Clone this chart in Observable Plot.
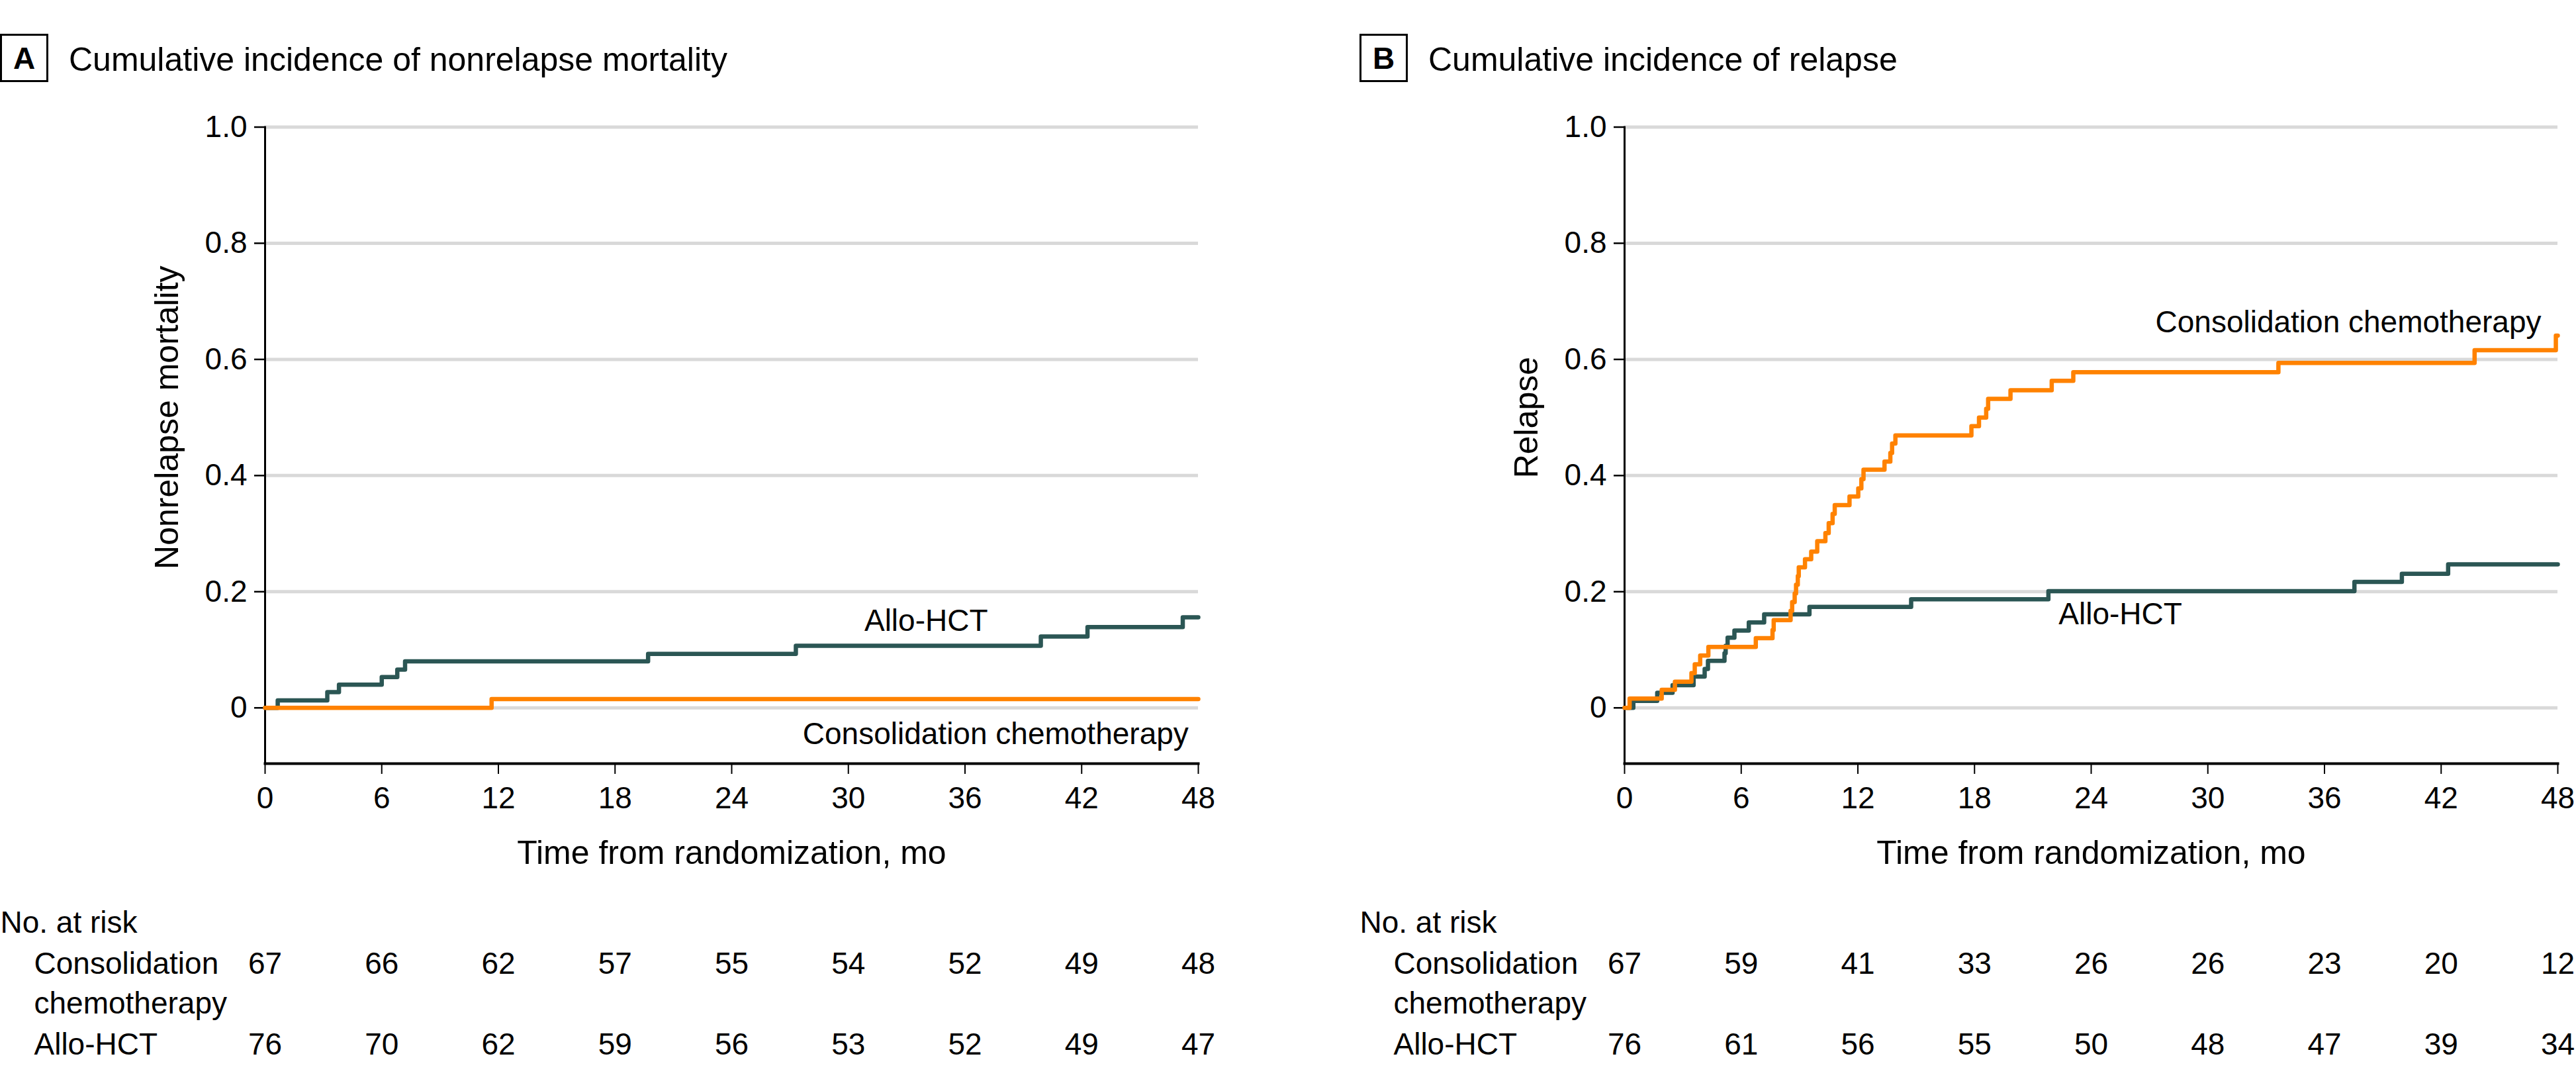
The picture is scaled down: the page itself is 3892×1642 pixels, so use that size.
<!DOCTYPE html>
<html>
<head>
<meta charset="utf-8">
<script src="https://cdn.jsdelivr.net/npm/d3@7"></script>
<script src="https://cdn.jsdelivr.net/npm/@observablehq/plot@0.6"></script>
<style>
  html, body { margin: 0; padding: 0; background: #fff; }
  body { width: 3892px; height: 1642px; position: relative; overflow: hidden;
         font-family: "Liberation Sans", Arial, sans-serif; color: #000; }
  .panel { position: absolute; top: 0; width: 1838px; height: 1642px; }
  .head { position: relative; height: 150px; }
  .box { position: absolute; left: 0; top: 51px; width: 73px; height: 73px; box-sizing: border-box;
         border: 3px solid #000; display: flex; align-items: center; justify-content: center;
         font-weight: bold; font-size: 46px; line-height: 1; }
  .title { position: absolute; left: 104px; top: 65px; font-size: 50px; line-height: 50px; white-space: nowrap; }
  .panel svg { display: block; }
</style>
</head>
<body>
<div class="panel" id="panelA" style="left:0px">
  <div class="head"><div class="box">A</div><div class="title">Cumulative incidence of nonrelapse mortality</div></div>
</div>
<div class="panel" id="panelB" style="left:2054px">
  <div class="head"><div class="box">B</div><div class="title">Cumulative incidence of relapse</div></div>
</div>
<script>
// ---------------- data ----------------
const groups = ["Allo-HCT", "Consolidation chemotherapy"];
const groupColors = ["#2b5654", "#ff8200"];
const xTicks = [0, 6, 12, 18, 24, 30, 36, 42, 48];
const yTicks = [0, 0.2, 0.4, 0.6, 0.8, 1.0];
const xLabel = "Time from randomization, mo";

// Panel A: nonrelapse mortality
const nrmAlloTime  = [0, 0.65, 3.2, 3.8, 6.0, 6.8, 7.2, 19.7, 27.3, 39.9, 42.3, 47.2, 48];
const nrmAlloValue = [0, 0.013, 0.027, 0.040, 0.053, 0.066, 0.080, 0.093, 0.107, 0.123, 0.139, 0.156, 0.156];
const nrmChemoTime  = [0, 11.65, 48];
const nrmChemoValue = [0, 0.015, 0.015];

// Panel B: relapse
const relAlloTime  = [0, 0.45, 1.68, 2.47, 3.55, 4.12, 4.29, 5.14, 5.2, 5.3, 5.65, 6.39, 7.18, 9.51, 14.74, 21.8, 37.54, 39.98, 42.36, 48];
const relAlloValue = [0, 0.012, 0.026, 0.039, 0.054, 0.067, 0.081, 0.094, 0.107, 0.121, 0.133, 0.147, 0.161, 0.174, 0.187, 0.201, 0.217, 0.231, 0.247, 0.247];
const relChemoTime  = [0, 0.26, 1.91, 2.59, 3.44, 3.61, 3.89, 4.31, 6.75, 7.61, 7.67, 8.54, 8.62, 8.75, 8.82, 8.91, 8.96,
                       9.28, 9.6, 9.91, 10.33, 10.5, 10.7, 10.81, 11.57, 12.02, 12.18, 12.29, 13.37, 13.67, 13.76, 13.93,
                       17.84, 18.23, 18.6, 18.7, 19.85, 21.97, 23.08, 33.63, 43.72, 47.9, 48];
const relChemoValue = [0, 0.016, 0.031, 0.045, 0.060, 0.075, 0.090, 0.105, 0.120, 0.134, 0.151, 0.167, 0.182, 0.197, 0.212, 0.227, 0.242,
                       0.256, 0.269, 0.287, 0.301, 0.318, 0.334, 0.349, 0.364, 0.378, 0.394, 0.410, 0.424, 0.439, 0.455, 0.469,
                       0.485, 0.500, 0.515, 0.532, 0.547, 0.563, 0.578, 0.594, 0.616, 0.641, 0.641];

// Numbers at risk
const riskTimes = [0, 6, 12, 18, 24, 30, 36, 42, 48];
const nrmRiskChemo = [67, 66, 62, 57, 55, 54, 52, 49, 48];
const nrmRiskAllo  = [76, 70, 62, 59, 56, 53, 52, 49, 47];
const relRiskChemo = [67, 59, 41, 33, 26, 26, 23, 20, 12];
const relRiskAllo  = [76, 61, 56, 55, 50, 48, 47, 39, 34];

// Curve labels (position in data units)
const nrmLabels = [
  {text: "Allo-HCT", t: 34.0, v: 0.149, anchor: "middle"},
  {text: "Consolidation chemotherapy", t: 47.5, v: -0.046, anchor: "end"}
];
const relLabels = [
  {text: "Consolidation chemotherapy", t: 47.15, v: 0.664, anchor: "end"},
  {text: "Allo-HCT", t: 25.5, v: 0.161, anchor: "middle"}
];

// ---------------- build ----------------
const FONT = '"Liberation Sans", Arial, sans-serif';

function series(name, times, values) {
  return times.map((t, i) => ({group: name, t, v: values[i]}));
}

function panel(cfg) {
  const alloLine = series(groups[0], cfg.alloTime, cfg.alloValue);
  const chemoLine = series(groups[1], cfg.chemoTime, cfg.chemoValue);
  const rowLabelLines = [
    {text: "Consolidation", dy: 317},
    {text: "chemotherapy", dy: 377},
    {text: "Allo-HCT", dy: 439}
  ];
  const riskRowsList = [
    {dy: 317, values: cfg.riskChemo},
    {dy: 439, values: cfg.riskAllo}
  ];
  const midY = (d3.min(yTicks) + d3.max(yTicks)) / 2;
  return Plot.plot({
    width: 1838,
    height: 1492,
    marginTop: 41.5,
    marginBottom: 489,
    marginLeft: 400,
    marginRight: 28,
    style: {fontFamily: FONT, fontSize: "46px", color: "#000", background: "#fff", overflow: "visible"},
    x: {domain: [0, 48]},
    y: {domain: [-0.096, 1]},
    color: {domain: groups, range: groupColors},
    marks: [
      Plot.gridY(yTicks, {stroke: "#d9d9d9", strokeOpacity: 1, strokeWidth: 5}),
      Plot.axisY(yTicks, {tickSize: 16, tickPadding: 11, strokeWidth: 2.5, fontSize: 46, label: null,
        tickFormat: d => d === 0 ? "0" : d.toFixed(1)}),
      Plot.axisX(xTicks, {tickSize: 16, tickPadding: 19, strokeWidth: 2, fontSize: 46, label: null}),
      Plot.frame({anchor: "left", strokeWidth: 3}),
      Plot.frame({anchor: "bottom", strokeWidth: 4}),
      Plot.line(alloLine, {x: "t", y: "v", stroke: "group", curve: "step-after", strokeWidth: 6.5}),
      Plot.line(chemoLine, {x: "t", y: "v", stroke: "group", curve: "step-after", strokeWidth: 6.5}),
      ...["start", "middle", "end"].map(a => Plot.text(cfg.labels.filter(d => d.anchor === a),
        {x: "t", y: "v", text: "text", textAnchor: a, fontSize: 46, fill: "#000"})),
      // axis titles
      Plot.text([{label: cfg.yLabel, v: midY}], {y: "v", text: "label", frameAnchor: "left", dx: -148, rotate: -90,
        textAnchor: "middle", lineAnchor: "middle", fontSize: 50, fill: "#000"}),
      Plot.text([xLabel], {frameAnchor: "bottom", dy: 151, lineAnchor: "bottom", textAnchor: "middle", fontSize: 50, fill: "#000"}),
      // number at risk table
      Plot.text(["No. at risk"], {frameAnchor: "bottom-left", dx: -400, dy: 255, textAnchor: "start", lineAnchor: "bottom", fontSize: 46, fill: "#000"}),
      ...rowLabelLines.map(r => Plot.text([r.text], {frameAnchor: "bottom-left", dx: -349, dy: r.dy,
        textAnchor: "start", lineAnchor: "bottom", fontSize: 46, fill: "#000"})),
      ...riskRowsList.map(row => Plot.text(riskTimes.map((t, i) => ({t, n: row.values[i]})),
        {x: "t", text: d => String(d.n), frameAnchor: "bottom", dy: row.dy, lineAnchor: "bottom",
         textAnchor: "middle", fontSize: 46, fill: "#000"}))
    ]
  });
}

document.getElementById("panelA").appendChild(panel({
  alloTime: nrmAlloTime, alloValue: nrmAlloValue,
  chemoTime: nrmChemoTime, chemoValue: nrmChemoValue,
  riskChemo: nrmRiskChemo, riskAllo: nrmRiskAllo,
  labels: nrmLabels, yLabel: "Nonrelapse mortality"
}));
document.getElementById("panelB").appendChild(panel({
  alloTime: relAlloTime, alloValue: relAlloValue,
  chemoTime: relChemoTime, chemoValue: relChemoValue,
  riskChemo: relRiskChemo, riskAllo: relRiskAllo,
  labels: relLabels, yLabel: "Relapse"
}));
</script>
</body>
</html>
